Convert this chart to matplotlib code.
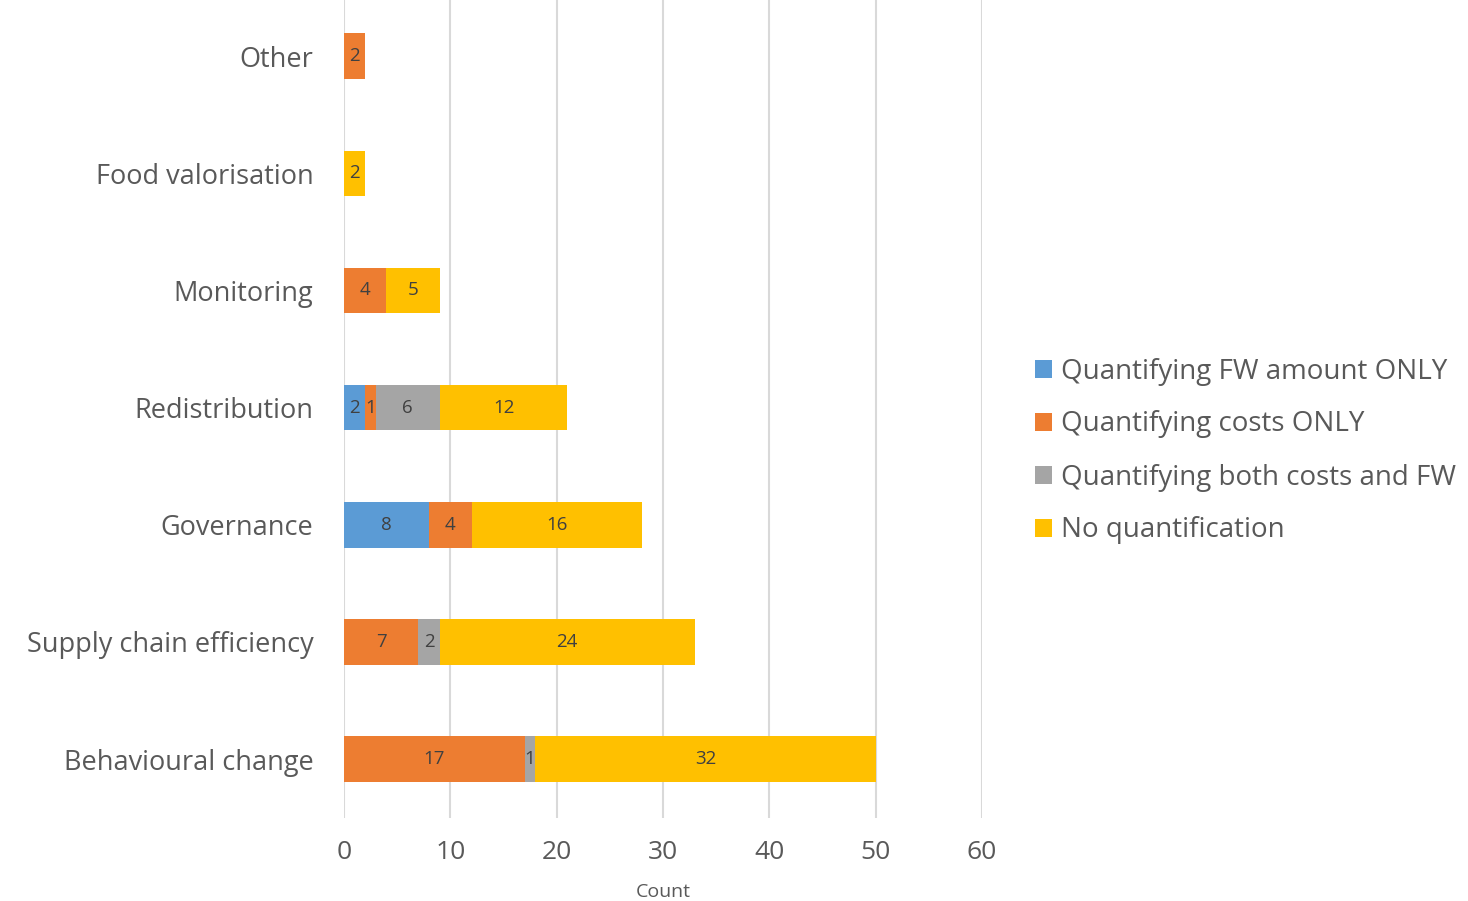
import numpy as np
import matplotlib.pyplot as plt

plt.rcParams["font.family"] = ["Open Sans", "DejaVu Sans"]

# categories listed bottom to top
categories = ["Behavioural change", "Supply chain efficiency", "Governance",
              "Redistribution", "Monitoring", "Food valorisation", "Other"]
fw_only = [0, 0, 8, 2, 0, 0, 0]
costs_only = [17, 7, 4, 1, 4, 0, 2]
both = [1, 2, 0, 6, 0, 0, 0]
none = [32, 24, 16, 12, 5, 2, 0]

series = [
    ("Quantifying FW amount ONLY", fw_only, "#5B9BD5"),
    ("Quantifying costs ONLY", costs_only, "#ED7D31"),
    ("Quantifying both costs and FW", both, "#A5A5A5"),
    ("No quantification", none, "#FFC000"),
]

fig = plt.figure(figsize=(14.68, 9.01), dpi=100)
ax = fig.add_axes([0.2343, 0.0926, 0.669 - 0.2343, 0.910])

y = np.arange(len(categories))
left = np.zeros(len(categories))
for name, vals, col in series:
    vals = np.array(vals, dtype=float)
    bars = ax.barh(y, vals, left=left, height=0.39, color=col, label=name, zorder=3)
    for b, v in zip(bars, vals):
        if v > 0:
            ax.text(b.get_x() + b.get_width() / 2, b.get_y() + b.get_height() / 2,
                    f"{int(v)}", ha="center", va="center", fontsize=13.5,
                    color="#404040", zorder=4)
    left += vals

ax.set_xlim(0, 60)
ax.set_ylim(-0.5, len(categories) - 0.5)
ax.set_xticks(np.arange(0, 61, 10))
ax.set_yticks(y)
ax.set_yticklabels(categories)
ax.tick_params(axis="y", length=0, pad=22, labelsize=19.5, labelcolor="#595959")
ax.tick_params(axis="x", length=0, pad=16, labelsize=19, labelcolor="#595959")
ax.grid(axis="x", color="#D9D9D9", linewidth=1.5, zorder=0)
for s in ax.spines.values():
    s.set_visible(False)
ax.set_xlabel("Count", fontsize=14, color="#595959", labelpad=13)

fig.legend(loc="center left", bbox_to_anchor=(1035 / 1468, 1 - 451 / 901),
           frameon=False, fontsize=20, labelcolor="#595959",
           handlelength=0.6, handleheight=0.6, handletextpad=0.35,
           labelspacing=0.9, borderaxespad=0, borderpad=0)

fig.savefig("out.png", dpi=100)
